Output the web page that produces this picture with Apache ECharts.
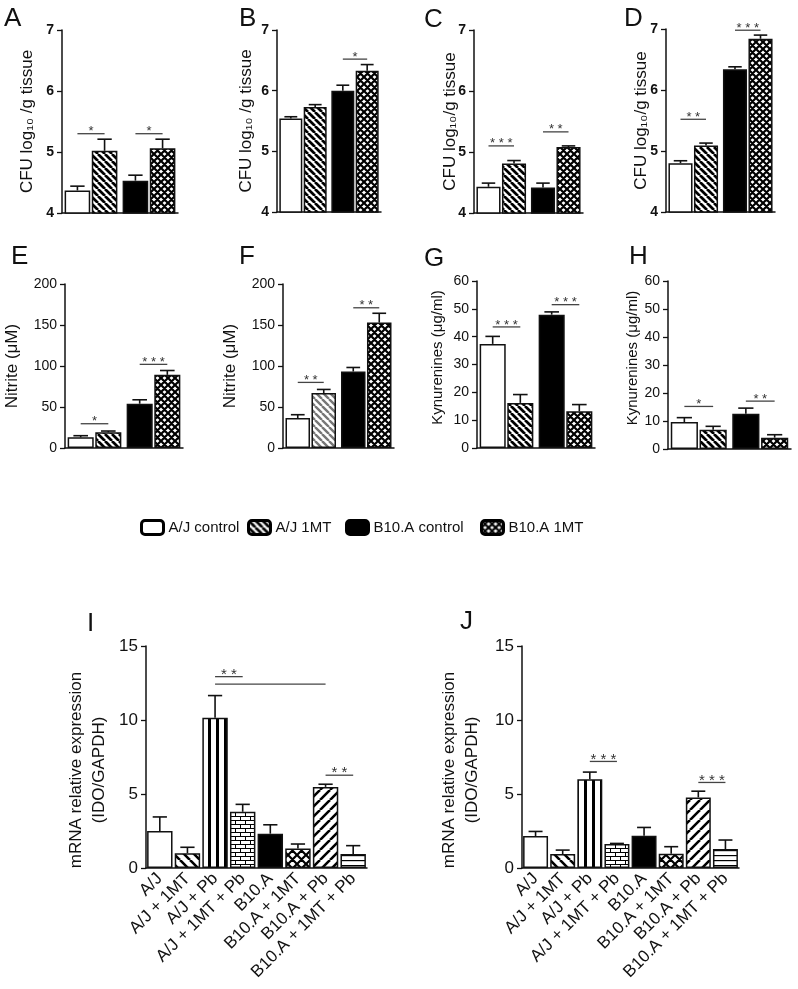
<!DOCTYPE html>
<html><head><meta charset="utf-8">
<script src="https://cdn.jsdelivr.net/npm/echarts@6/dist/echarts.min.js"></script>
<style>html,body{margin:0;padding:0;background:#fff}#c{width:798px;height:989px}</style>
</head><body><div id="c"></div>
<script>
// ---------- data ----------
const groups = ['A/J', 'B10.A'];
const seriesNames = ['A/J control', 'A/J 1MT', 'B10.A control', 'B10.A 1MT'];
// CFU log10/g tissue (A-D): means and SEM, order = seriesNames
const cfuA = [4.37, 5.02, 4.53, 5.06]; const semA = [0.07, 0.19, 0.09, 0.15];
const cfuB = [5.54, 5.73, 6.00, 6.33]; const semB = [0.03, 0.04, 0.09, 0.10];
const cfuC = [4.43, 4.81, 4.42, 5.08]; const semC = [0.06, 0.05, 0.07, 0.02];
const cfuD = [4.80, 5.09, 6.34, 6.84]; const semD = [0.04, 0.04, 0.04, 0.06];
// Nitrite (uM) (E-F)
const nitE = [13.0, 19.1, 54.0, 89.2]; const semE = [2.0, 1.6, 4.8, 5.3];
const nitF = [36.5, 67.0, 93.3, 153.0]; const semF = [4.1, 4.4, 4.9, 11.3];
// Kynurenines (ug/ml) (G-H)
const kynG = [37.4, 16.2, 47.9, 13.2]; const semG = [2.7, 3.0, 1.0, 2.4];
const kynH = [9.6, 6.9, 12.6, 4.05]; const semH = [1.6, 1.2, 2.0, 1.05];
// significance: [fromBar, toBar, y, label]
const sigA = [[0, 1, 5.30, '*'], [2, 3, 5.30, '*']];
const sigB = [[2, 3, 6.52, '*']];
const sigC = [[0, 1, 5.10, '***'], [2, 3, 5.33, '**']];
const sigD = [[0, 1, 5.52, '**'], [2, 3, 6.98, '***']];
const sigE = [[0, 1, 29.6, '*'], [2, 3, 102, '***']];
const sigF = [[0, 1, 80, '**'], [2, 3, 171, '**']];
const sigG = [[0, 1, 43.5, '***'], [2, 3, 51.5, '***']];
const sigH = [[0, 1, 15.2, '*'], [2, 3, 17.1, '**']];
// mRNA relative expression (I-J)
const mrnaCats = ['A/J', 'A/J + 1MT', 'A/J + Pb', 'A/J + 1MT + Pb', 'B10.A', 'B10.A + 1MT', 'B10.A + Pb', 'B10.A + 1MT + Pb'];
const mrnaI = [2.50, 1.00, 10.15, 3.80, 2.32, 1.31, 5.48, 0.95];
const semI = [0.95, 0.40, 1.50, 0.50, 0.60, 0.31, 0.18, 0.56];
const mrnaJ = [2.16, 0.94, 6.00, 1.62, 2.18, 0.97, 4.77, 1.28];
const semJ = [0.31, 0.27, 0.48, 0.04, 0.56, 0.47, 0.42, 0.61];
const sigI = [[2, 3, 12.93, '**'], [2, 6, 12.43, ''], [6, 7, 6.27, '**']];
const sigJ = [[2, 3, 7.2, '***'], [6, 7, 5.78, '***']];
const ticksCFU = [4, 7, 1], ticksNit = [0, 200, 50], ticksKyn = [0, 60, 10], ticksMrna = [0, 15, 5];

// ---------- patterns ----------
function tile(w, h, draw) {
  const c = document.createElement('canvas'); c.width = w; c.height = h;
  const x = c.getContext('2d'); x.fillStyle = '#fff'; x.fillRect(0, 0, w, h);
  draw(x); return { image: c, repeat: 'repeat' };
}
function diag(s, lw, dirs, col) {
  return tile(s, s, x => {
    x.strokeStyle = col; x.lineWidth = lw; x.beginPath();
    for (const d of dirs) for (const k of [-s, 0, s]) {
      if (d === 'b') { x.moveTo(k, 0); x.lineTo(k + s, s); }
      else { x.moveTo(k, s); x.lineTo(k + s, 0); }
    }
    x.stroke();
  });
}
const pWhite = '#ffffff', pBlack = '#000000';
const pBack = diag(7, 2.7, ['b'], '#000');
const pBackGrey = diag(7, 2.4, ['b'], '#777');
const pCross = diag(7, 2.2, ['b', 'f'], '#000');
const pBackWide = diag(10, 2.6, ['b'], '#000');
const pFwdWide = diag(10, 2.6, ['f'], '#000');
const pCrossWide = diag(9, 2.2, ['b', 'f'], '#000');
const pVert = tile(8, 8, x => { x.fillStyle = '#000'; x.fillRect(0, 0, 3, 8); });
const pHorz = tile(6, 5, x => { x.fillStyle = '#000'; x.fillRect(0, 0, 6, 1.2); });
const pBrick = tile(10, 8, x => {
  x.fillStyle = '#000'; x.fillRect(0, 0, 10, 1); x.fillRect(0, 4, 10, 1);
  x.fillRect(0, 0, 1, 4); x.fillRect(5, 4, 1, 4);
});
const fillsAH = [pWhite, pBack, pBlack, pCross];
const fillsIJ = [pWhite, pBackWide, pVert, pBrick, pBlack, pCrossWide, pFwdWide, pHorz];

// ---------- layout ----------
const FONT = "'Liberation Sans', Arial, sans-serif";
const NARROW = "'Liberation Sans Narrow', 'Arial Narrow', 'Liberation Sans', Arial, sans-serif";
const CG = 0.09, BG = 0.06, CG8 = 0.08;
const panels = [
  { L: 'A', g: [62, 30, 116, 183], v: cfuA, e: semA, s: sigA, t: ticksCFU, name: 'CFU log\u2081\u2080 /g tissue', gap: 26, nfs: 17, narrow: true, lp: [4, 6] },
  { L: 'B', g: [277, 30, 104, 182], v: cfuB, e: semB, s: sigB, t: ticksCFU, name: 'CFU log\u2081\u2080 /g tissue', gap: 22, nfs: 17, narrow: true, lp: [239, 6] },
  { L: 'C', g: [474, 30, 109, 183], v: cfuC, e: semC, s: sigC, t: ticksCFU, name: 'CFU log\u2081\u2080/g tissue', gap: 15, nfs: 17, narrow: true, lp: [424, 7] },
  { L: 'D', g: [666, 29, 109, 183], v: cfuD, e: semD, s: sigD, t: ticksCFU, name: 'CFU log\u2081\u2080/g tissue', gap: 16, nfs: 17, narrow: true, lp: [624, 6] },
  { L: 'E', g: [65, 284, 118, 164], v: nitE, e: semE, s: sigE, t: ticksNit, name: 'Nitrite (\u03bcM)', gap: 44, nfs: 17, lp: [11, 244] },
  { L: 'F', g: [283, 284, 111, 164], v: nitF, e: semF, s: sigF, t: ticksNit, name: 'Nitrite (\u03bcM)', gap: 44, nfs: 17, lp: [239, 244], grey: true },
  { L: 'G', g: [477, 281, 118, 167], v: kynG, e: semG, s: sigG, t: ticksKyn, name: 'Kynurenines (\u03bcg/ml)', gap: 32, nfs: 15, shift: 14, lp: [424, 246] },
  { L: 'H', g: [668, 281, 123, 168], v: kynH, e: semH, s: sigH, t: ticksKyn, name: 'Kynurenines (\u03bcg/ml)', gap: 28, nfs: 15, shift: 14, lp: [629, 244] }
];
const panelsIJ = [
  { L: 'I', g: [146, 646, 221, 222], v: mrnaI, e: semI, s: sigI, t: ticksMrna, gap: 35, lp: [87, 611] },
  { L: 'J', g: [522, 646, 217, 222], v: mrnaJ, e: semJ, s: sigJ, t: ticksMrna, gap: 38, lp: [460, 609] }
];
const legendLeft = [140, 247, 345, 480];

const grid = [], xAxis = [], yAxis = [], series = [], title = [];

function barCenter(api, idx, grouped) {
  const band = api.size([1, 0])[0];
  if (grouped) {
    const cat = Math.floor(idx / 2), slot = idx % 2;
    const bw = band * (1 - CG) / (2 + BG);
    return { x: api.coord([cat, 0])[0] + (slot - 0.5) * bw * (1 + BG), bw };
  }
  return { x: api.coord([idx, 0])[0], bw: band * (1 - CG8) };
}
function errSeries(gi, vals, sems, grouped) {
  return {
    type: 'custom', xAxisIndex: gi, yAxisIndex: gi, z: 5, silent: true,
    data: vals.map((v, i) => [grouped ? Math.floor(i / 2) : i, v, sems[i], i]),
    renderItem: (p, api) => {
      const m = api.value(1), s = api.value(2), idx = api.value(3);
      const c = barCenter(api, idx, grouped);
      const yb = api.coord([0, m])[1], yt = api.coord([0, m + s])[1];
      const cap = c.bw * 0.28;
      const st = { stroke: '#111', lineWidth: 1.6 };
      return { type: 'group', children: [
        { type: 'line', shape: { x1: c.x, y1: yb, x2: c.x, y2: yt }, style: st },
        { type: 'line', shape: { x1: c.x - cap, y1: yt, x2: c.x + cap, y2: yt }, style: st }
      ] };
    }
  };
}
function sigSeries(gi, sigs, grouped, fs) {
  return {
    type: 'custom', xAxisIndex: gi, yAxisIndex: gi, z: 6, silent: true,
    data: sigs.map(s => [0, s[2], s[0], s[1]]),
    renderItem: (p, api) => {
      const y = api.coord([0, api.value(1)])[1];
      const a = barCenter(api, api.value(2), grouped).x, b = barCenter(api, api.value(3), grouped).x;
      const lab = sigs[p.dataIndex][3].split('').join(' ');
      return { type: 'group', children: [
        { type: 'line', shape: { x1: a, y1: y, x2: b, y2: y }, style: { stroke: '#444', lineWidth: 1.3 } },
        { type: 'text', style: { text: lab, x: (a + b) / 2, y: y - 2, align: 'center', verticalAlign: 'middle', font: fs + 'px ' + FONT, fill: '#333' } }
      ] };
    }
  };
}
function axisY(gi, t, labelFont, name, gap, nfs, lh, pad) {
  return {
    type: 'value', gridIndex: gi, min: t[0], max: t[1], interval: t[2],
    axisLine: { show: true, lineStyle: { color: '#111', width: 1.5 } },
    axisTick: { show: true, length: 5, lineStyle: { color: '#111', width: 1.3 } },
    splitLine: { show: false },
    axisLabel: Object.assign({ color: '#111', margin: 8 }, labelFont),
    name, nameLocation: 'middle', nameGap: gap, nameMoveOverlap: false,
    nameTextStyle: { fontFamily: FONT, fontSize: nfs, color: '#111', lineHeight: lh, padding: pad }
  };
}
function addTitle(L, lp) {
  title.push({ text: L, left: lp[0], top: lp[1], padding: 0, textStyle: { fontFamily: FONT, fontSize: 26, fontWeight: 'normal', color: '#111' } });
}

panels.forEach((P, gi) => {
  grid.push({ left: P.g[0], top: P.g[1], width: P.g[2], height: P.g[3], outerBoundsMode: 'none' });
  xAxis.push({ type: 'category', gridIndex: gi, data: groups, axisTick: { show: false }, axisLabel: { show: false },
    axisLine: { show: true, lineStyle: { color: '#111', width: 1.5 } } });
  const lf = P.narrow ? { fontFamily: NARROW, fontWeight: 'bold', fontSize: 14 } : { fontFamily: FONT, fontSize: 14 };
  const pad = P.shift ? [0, 0, 0, P.shift] : 0;
  yAxis.push(axisY(gi, P.t, lf, P.name, P.gap, P.nfs, P.nfs, pad));
  seriesNames.forEach((n, k) => {
    const cat = k < 2 ? 0 : 1;
    let col = fillsAH[k];
    if (P.grey && k === 1) col = pBackGrey;
    series.push({
      type: 'bar', name: n, xAxisIndex: gi, yAxisIndex: gi, stack: 'st' + gi + '_' + (k % 2), clip: true, silent: true,
      barCategoryGap: (CG * 100) + '%', barGap: (BG * 100) + '%',
      data: groups.map((g, c) => c === cat ? P.v[k] : '-'),
      itemStyle: { color: col, borderColor: '#111', borderWidth: 1.5 }, emphasis: { disabled: true }
    });
  });
  series.push(errSeries(gi, P.v, P.e, true));
  series.push(sigSeries(gi, P.s, true, 13));
  addTitle(P.L, P.lp);
});
panelsIJ.forEach((P, j) => {
  const gi = panels.length + j;
  grid.push({ left: P.g[0], top: P.g[1], width: P.g[2], height: P.g[3], outerBoundsMode: 'none' });
  xAxis.push({ type: 'category', gridIndex: gi, data: mrnaCats, axisTick: { show: false },
    axisLabel: { rotate: 45, interval: 0, margin: 8, fontFamily: FONT, fontSize: 17, color: '#111' },
    axisLine: { show: true, lineStyle: { color: '#111', width: 1.5 } } });
  yAxis.push(axisY(gi, P.t, { fontFamily: FONT, fontSize: 17 }, 'mRNA relative expression\n(IDO/GAPDH)', P.gap, 17, 23, [0, 26, 0, 0]));
  series.push({
    type: 'bar', name: 'mRNA ' + P.L, xAxisIndex: gi, yAxisIndex: gi, barCategoryGap: (CG8 * 100) + '%', silent: true,
    data: P.v.map((v, i) => ({ value: v, itemStyle: { color: fillsIJ[i] } })),
    itemStyle: { borderColor: '#111', borderWidth: 1.5 }, emphasis: { disabled: true }
  });
  series.push(errSeries(gi, P.v, P.e, false));
  series.push(sigSeries(gi, P.s, false, 15));
  addTitle(P.L, P.lp);
});

const legend = seriesNames.map((n, i) => ({
  data: [n], left: legendLeft[i], top: 519, padding: 0, itemWidth: 22, itemHeight: 14, icon: 'roundRect',
  selectedMode: false, itemStyle: { borderColor: '#000', borderWidth: 3 },
  textStyle: { fontFamily: NARROW, fontSize: 15, color: '#111' }
}));

const chart = echarts.init(document.getElementById('c'), null, { renderer: 'canvas' });
chart.setOption({ animation: false, backgroundColor: '#fff', title, legend, grid, xAxis, yAxis, series, tooltip: { show: false } });
</script></body></html>
